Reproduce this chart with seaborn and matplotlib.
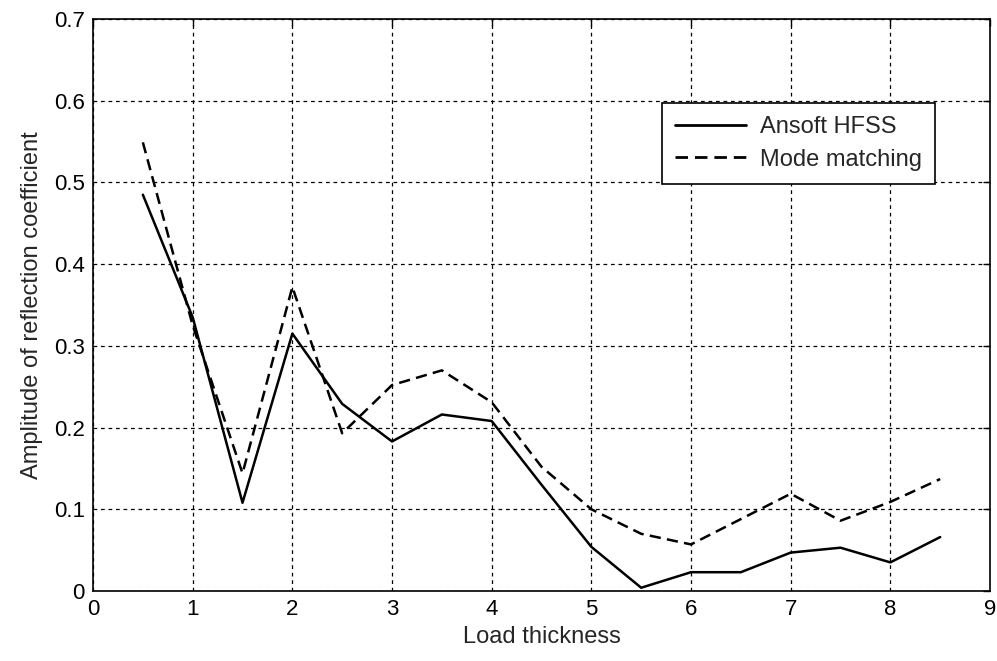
import matplotlib

matplotlib.use("Agg")
import matplotlib.pyplot as plt
import pandas as pd
import seaborn as sns


# values
load_thickness = [0.5, 1.0, 1.5, 2.0, 2.5, 3.0, 3.5, 4.0, 4.5, 5.0, 5.5, 6.0, 6.5, 7.0, 7.5, 8.0, 8.5]
hfss = [0.485, 0.335, 0.108, 0.315, 0.229, 0.183, 0.216, 0.208, 0.130, 0.054, 0.004, 0.023, 0.023, 0.047, 0.053, 0.035, 0.066]
mode_matching = [0.549, 0.325, 0.144, 0.372, 0.193, 0.252, 0.270, 0.231, 0.152, 0.100, 0.070, 0.057, 0.088, 0.119, 0.086, 0.109, 0.137]
series_names = ["Ansoft HFSS", "Mode matching"]
x_ticks = list(range(0, 10))
y_ticks = [0, 0.1, 0.2, 0.3, 0.4, 0.5, 0.6, 0.7]
y_tick_labels = ["0", "0.1", "0.2", "0.3", "0.4", "0.5", "0.6", "0.7"]


def build_frame() -> pd.DataFrame:
    frames = []
    for name, values in zip(series_names, [hfss, mode_matching]):
        frames.append(pd.DataFrame({"thickness": load_thickness, "amplitude": values, "method": name}))
    return pd.concat(frames, ignore_index=True)


def main() -> None:
    data = build_frame()
    sns.set_theme(style="white")
    plt.rcParams["font.family"] = ["Liberation Sans", "DejaVu Sans"]

    fig = plt.figure(figsize=(9.97, 6.61), dpi=100)
    ax = fig.add_axes([0.0933, 0.1059, 0.8997, 0.8654])

    sns.lineplot(
        data=data,
        x="thickness",
        y="amplitude",
        hue="method",
        style="method",
        palette={name: "black" for name in series_names},
        dashes={"Ansoft HFSS": "", "Mode matching": (4.5, 2.5)},
        linewidth=1.8,
        ax=ax,
    )

    ax.set_xlim(0, 9)
    ax.set_ylim(0, 0.7)
    ax.set_xticks(x_ticks)
    ax.set_xticklabels([str(t) for t in x_ticks])
    ax.set_yticks(y_ticks)
    ax.set_yticklabels(y_tick_labels)
    ax.grid(True, color="black", linestyle=(0, (3, 3)), linewidth=0.9)
    ax.tick_params(direction="in", top=True, right=True, length=5, width=1, labelsize=16, colors="black", pad=6)
    for spine in ax.spines.values():
        spine.set_color("black")
        spine.set_linewidth(1.2)

    ax.set_xlabel("Load thickness", fontsize=17, labelpad=4)
    ax.set_ylabel("Amplitude of reflection coefficient", fontsize=17, labelpad=8)

    legend = ax.legend(
        loc="upper left",
        bbox_to_anchor=(0.634, 0.853),
        borderaxespad=0,
        fontsize=17,
        frameon=True,
        fancybox=False,
        edgecolor="black",
        framealpha=1,
        handlelength=3,
        handletextpad=0.6,
        borderpad=0.55,
        labelspacing=0.45,
    )
    legend.get_frame().set_linewidth(1.2)
    for line in legend.get_lines():
        line.set_linewidth(2)

    fig.savefig("out.png", dpi=100)
    plt.close(fig)


if __name__ == "__main__":
    main()
